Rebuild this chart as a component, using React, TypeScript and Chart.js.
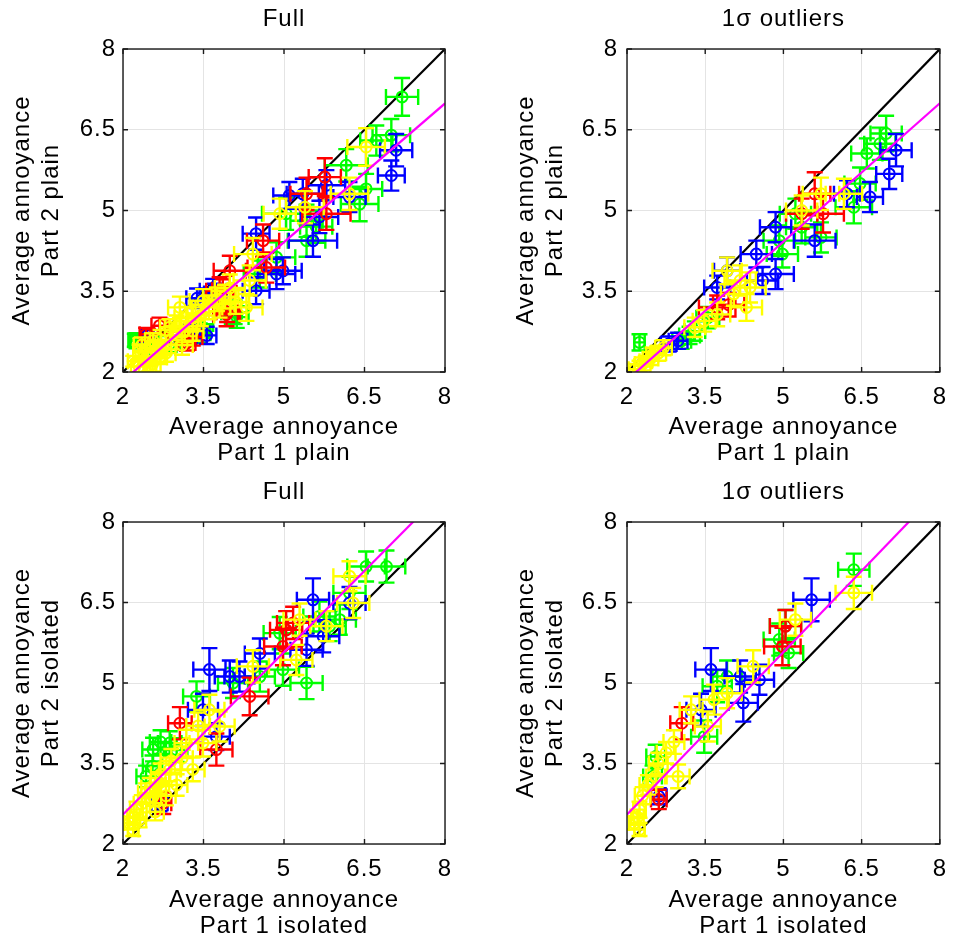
import React, { useEffect, useRef } from 'react';
import { Chart, registerables } from 'chart.js';

Chart.register(...registerables);

// ---------- data ----------
type Pt = [number, number, number, number]; // x, y, xErr, yErr

const AXIS_MIN = 2;
const AXIS_MAX = 8;
const TICK_VALUES = [2, 3.5, 5, 6.5, 8];

const PANEL_TITLES = ['Full', '1σ outliers', 'Full', '1σ outliers'];
const X_LABELS = [
  ['Average annoyance', 'Part 1 plain'],
  ['Average annoyance', 'Part 1 plain'],
  ['Average annoyance', 'Part 1 isolated'],
  ['Average annoyance', 'Part 1 isolated'],
];
const Y_LABELS = [
  ['Average annoyance', 'Part 2 plain'],
  ['Average annoyance', 'Part 2 plain'],
  ['Average annoyance', 'Part 2 isolated'],
  ['Average annoyance', 'Part 2 isolated'],
];
const FIT_SLOPES = [0.859, 0.857, 1.009, 1.009];
const FIT_INTERCEPTS = [0.117, 0.136, 0.53, 0.53];

// Top-left: Part 1 plain vs Part 2 plain, full
const tlGreen: Pt[] = [
  [7.2, 7.11, 0.3, 0.35], [7.0, 6.4, 0.35, 0.3], [6.72, 6.3, 0.3, 0.28], [6.16, 5.84, 0.4, 0.3],
  [6.41, 5.12, 0.35, 0.32], [6.53, 5.4, 0.3, 0.28], [5.04, 4.94, 0.45, 0.3], [5.42, 4.44, 0.35, 0.3],
  [4.86, 4.13, 0.35, 0.28], [4.55, 3.82, 0.3, 0.25], [5.6, 4.7, 0.3, 0.3], [5.42, 4.81, 0.3, 0.3],
  [4.08, 3.11, 0.25, 0.22], [3.43, 2.89, 0.25, 0.2], [3.37, 2.76, 0.22, 0.18], [2.87, 2.52, 0.2, 0.15],
  [2.5, 2.39, 0.15, 0.12], [2.25, 2.58, 0.12, 0.14], [4.12, 3.02, 0.22, 0.2], [3.43, 2.72, 0.2, 0.18],
  [2.22, 2.59, 0.12, 0.12],
];
const tlBlue: Pt[] = [
  [7.09, 6.12, 0.3, 0.3], [7.0, 5.65, 0.25, 0.28], [5.79, 5.47, 0.35, 0.28], [5.1, 5.28, 0.3, 0.25],
  [5.35, 5.31, 0.3, 0.28], [5.66, 4.88, 0.35, 0.3], [5.54, 4.44, 0.45, 0.3], [6.22, 5.25, 0.3, 0.28],
  [4.86, 3.82, 0.35, 0.28], [4.98, 3.88, 0.35, 0.25], [4.48, 4.57, 0.25, 0.3], [3.68, 3.51, 0.25, 0.22],
  [4.48, 3.51, 0.25, 0.25], [3.24, 2.7, 0.2, 0.18], [2.45, 2.68, 0.12, 0.12], [3.38, 3.37, 0.2, 0.18],
  [3.71, 3.46, 0.2, 0.18], [3.56, 2.68, 0.18, 0.16],
];
const tlRed: Pt[] = [
  [5.76, 5.62, 0.3, 0.35], [5.79, 4.94, 0.45, 0.3], [5.42, 5.31, 0.3, 0.3], [4.61, 4.44, 0.3, 0.3],
  [3.99, 3.88, 0.3, 0.28], [4.67, 3.94, 0.35, 0.28], [3.8, 3.51, 0.25, 0.25], [3.93, 3.07, 0.25, 0.22],
  [2.68, 2.86, 0.15, 0.15], [3.02, 2.67, 0.18, 0.15], [2.43, 2.7, 0.12, 0.12], [3.3, 2.65, 0.18, 0.16],
  [3.19, 2.54, 0.16, 0.14], [3.94, 3.11, 0.2, 0.18], [3.86, 3.52, 0.2, 0.2],
];
const tlYellow: Pt[] = [
  [6.53, 6.18, 0.35, 0.35], [6.22, 5.31, 0.35, 0.3], [5.39, 5.06, 0.35, 0.3], [4.92, 4.94, 0.3, 0.28],
  [4.42, 4.19, 0.35, 0.3], [4.36, 3.7, 0.3, 0.28], [4.3, 3.2, 0.3, 0.25], [3.99, 3.56, 0.28, 0.25],
  [3.8, 3.26, 0.28, 0.25], [3.49, 3.32, 0.25, 0.22], [3.18, 3.01, 0.22, 0.2], [3.06, 3.2, 0.22, 0.2],
  [3.3, 2.76, 0.2, 0.18], [2.87, 2.83, 0.18, 0.15], [2.75, 2.45, 0.15, 0.14], [2.56, 2.58, 0.15, 0.14],
  [2.68, 2.27, 0.14, 0.12], [2.5, 2.11, 0.12, 0.1], [2.43, 2.2, 0.12, 0.1], [2.31, 2.39, 0.12, 0.12],
  [2.19, 2.2, 0.1, 0.1], [2.3, 2.1, 0.15, 0.14], [2.45, 2.3, 0.16, 0.15], [2.6, 2.4, 0.18, 0.15],
  [2.7, 2.6, 0.2, 0.18], [2.9, 2.6, 0.2, 0.18], [3.0, 2.85, 0.22, 0.2], [3.15, 2.75, 0.22, 0.2],
  [3.3, 3.0, 0.22, 0.2], [3.45, 3.05, 0.25, 0.2], [3.6, 3.2, 0.25, 0.22], [3.75, 3.35, 0.25, 0.22],
  [2.35, 2.5, 0.15, 0.14], [2.55, 2.15, 0.15, 0.14], [2.8, 2.35, 0.18, 0.16], [3.1, 2.5, 0.2, 0.18],
  [3.9, 3.4, 0.25, 0.22], [4.1, 3.3, 0.25, 0.22],
];

// Top-right: Part 1 plain vs Part 2 plain, 1σ outliers
const trGreen: Pt[] = [
  [6.97, 6.43, 0.3, 0.33], [6.85, 6.24, 0.3, 0.3], [6.6, 6.06, 0.3, 0.28], [6.47, 5.5, 0.3, 0.3],
  [6.35, 5.06, 0.35, 0.3], [5.72, 4.5, 0.3, 0.28], [5.35, 4.69, 0.3, 0.3], [5.23, 4.94, 0.3, 0.28],
  [4.92, 4.44, 0.3, 0.28], [4.98, 4.19, 0.3, 0.25], [3.55, 3.01, 0.22, 0.2], [3.3, 2.76, 0.2, 0.18],
  [3.05, 2.58, 0.18, 0.15], [2.24, 2.55, 0.1, 0.15], [3.2, 2.68, 0.2, 0.16],
];
const trBlue: Pt[] = [
  [7.16, 6.12, 0.3, 0.3], [7.03, 5.68, 0.25, 0.28], [6.66, 5.25, 0.25, 0.28], [6.22, 5.31, 0.25, 0.25],
  [5.6, 4.44, 0.4, 0.3], [4.85, 4.69, 0.3, 0.28], [4.48, 4.19, 0.3, 0.25], [4.85, 3.82, 0.35, 0.28],
  [4.6, 3.7, 0.3, 0.25], [3.92, 3.88, 0.25, 0.25], [3.73, 3.57, 0.25, 0.22], [2.98, 2.58, 0.18, 0.15],
  [2.8, 2.52, 0.15, 0.14],
];
const trRed: Pt[] = [
  [5.6, 5.31, 0.3, 0.4], [5.76, 4.94, 0.4, 0.35], [5.35, 4.94, 0.3, 0.28], [3.73, 3.2, 0.35, 0.22],
  [3.95, 3.25, 0.3, 0.22],
];
const trYellow: Pt[] = [
  [6.16, 5.31, 0.35, 0.28], [5.72, 5.31, 0.35, 0.3], [5.35, 5.0, 0.3, 0.28], [4.36, 3.57, 0.3, 0.28],
  [4.17, 3.7, 0.3, 0.28], [4.29, 3.2, 0.3, 0.25], [3.92, 3.88, 0.28, 0.25], [3.73, 3.07, 0.25, 0.22],
  [3.48, 2.95, 0.22, 0.2], [3.3, 2.83, 0.2, 0.18], [2.49, 2.33, 0.12, 0.12], [2.36, 2.2, 0.12, 0.1],
  [2.24, 2.11, 0.1, 0.1], [2.3, 2.15, 0.15, 0.12], [2.45, 2.25, 0.15, 0.12], [2.6, 2.35, 0.15, 0.14],
  [2.7, 2.45, 0.16, 0.14], [2.15, 2.05, 0.12, 0.1], [4.05, 3.45, 0.25, 0.22],
];

// Bottom-left: Part 1 isolated vs Part 2 isolated, full
const blGreen: Pt[] = [
  [6.91, 7.17, 0.35, 0.3], [6.53, 7.17, 0.35, 0.28], [6.22, 6.68, 0.3, 0.3], [6.04, 6.18, 0.3, 0.28],
  [5.85, 6.06, 0.3, 0.28], [5.66, 6.24, 0.3, 0.28], [4.92, 5.93, 0.3, 0.3], [5.42, 5.0, 0.3, 0.3],
  [4.98, 5.25, 0.3, 0.3], [4.55, 5.12, 0.28, 0.28], [4.05, 5.0, 0.28, 0.28], [3.37, 4.75, 0.25, 0.28],
  [2.87, 3.88, 0.22, 0.22], [2.56, 3.76, 0.2, 0.22], [2.43, 3.26, 0.18, 0.2], [2.55, 3.45, 0.18, 0.2],
  [3.0, 3.75, 0.2, 0.22], [2.7, 3.9, 0.2, 0.22],
];
const blBlue: Pt[] = [
  [5.54, 6.55, 0.3, 0.4], [6.22, 6.49, 0.3, 0.3], [5.73, 5.87, 0.3, 0.3], [5.42, 5.62, 0.3, 0.3],
  [4.55, 5.55, 0.28, 0.28], [3.61, 5.25, 0.3, 0.4], [3.99, 5.12, 0.28, 0.3], [4.17, 5.12, 0.28, 0.28],
  [3.49, 4.5, 0.28, 0.3], [3.74, 4.0, 0.25, 0.25], [2.68, 2.76, 0.15, 0.15],
];
const blRed: Pt[] = [
  [5.04, 5.99, 0.3, 0.35], [5.17, 6.12, 0.3, 0.3], [4.98, 5.68, 0.35, 0.35], [4.36, 4.75, 0.35, 0.35],
  [3.06, 4.25, 0.22, 0.3], [3.74, 3.76, 0.3, 0.3], [2.75, 2.76, 0.15, 0.2],
];
const blYellow: Pt[] = [
  [6.22, 6.99, 0.3, 0.28], [6.29, 6.49, 0.3, 0.28], [5.79, 6.06, 0.3, 0.28], [5.29, 6.18, 0.3, 0.3],
  [5.23, 5.43, 0.3, 0.28], [4.42, 5.31, 0.3, 0.3], [3.8, 4.19, 0.28, 0.28], [3.61, 4.5, 0.28, 0.28],
  [3.49, 3.88, 0.25, 0.25], [3.18, 3.88, 0.22, 0.25], [3.3, 3.39, 0.22, 0.22], [2.87, 3.39, 0.2, 0.22],
  [2.68, 3.14, 0.18, 0.2], [2.56, 2.89, 0.15, 0.18], [2.43, 2.95, 0.15, 0.18], [2.25, 2.64, 0.12, 0.15],
  [2.31, 2.45, 0.12, 0.14], [2.12, 2.39, 0.1, 0.12], [2.19, 2.27, 0.1, 0.12], [2.35, 2.75, 0.15, 0.16],
  [2.5, 3.05, 0.16, 0.18], [2.7, 3.3, 0.18, 0.2], [2.9, 3.55, 0.2, 0.22], [3.0, 3.1, 0.2, 0.2],
  [2.2, 2.5, 0.12, 0.14], [2.6, 2.6, 0.16, 0.16], [3.1, 3.6, 0.2, 0.22], [3.4, 4.2, 0.22, 0.25],
  [2.8, 2.9, 0.18, 0.18],
];

// Bottom-right: Part 1 isolated vs Part 2 isolated, 1σ outliers
const brGreen: Pt[] = [
  [6.35, 7.11, 0.3, 0.3], [5.04, 6.06, 0.3, 0.3], [4.92, 5.81, 0.3, 0.3], [5.1, 5.56, 0.28, 0.28],
  [3.92, 5.12, 0.28, 0.3], [3.73, 4.94, 0.28, 0.3], [3.48, 4.0, 0.25, 0.3], [2.55, 3.63, 0.18, 0.22],
  [2.49, 3.26, 0.18, 0.2],
];
const brBlue: Pt[] = [
  [5.54, 6.55, 0.35, 0.4], [3.61, 5.25, 0.3, 0.4], [4.17, 5.12, 0.3, 0.3], [4.54, 5.06, 0.28, 0.28],
  [4.23, 4.63, 0.28, 0.35], [3.42, 4.5, 0.28, 0.3], [2.61, 2.89, 0.15, 0.15],
];
const brRed: Pt[] = [
  [5.04, 6.06, 0.3, 0.3], [4.98, 5.68, 0.35, 0.35], [3.05, 4.25, 0.22, 0.3], [2.61, 2.83, 0.15, 0.18],
];
const brYellow: Pt[] = [
  [6.35, 6.68, 0.35, 0.3], [5.23, 6.18, 0.3, 0.3], [4.42, 5.31, 0.3, 0.3], [3.92, 4.81, 0.28, 0.28],
  [3.67, 4.69, 0.28, 0.28], [3.55, 4.19, 0.25, 0.28], [3.23, 4.5, 0.22, 0.25], [2.98, 3.26, 0.22, 0.22],
  [2.55, 3.26, 0.18, 0.2], [2.24, 2.64, 0.12, 0.15], [2.14, 2.39, 0.1, 0.12], [2.24, 2.27, 0.1, 0.12],
  [2.3, 2.9, 0.15, 0.16], [2.4, 3.1, 0.16, 0.18], [2.6, 3.5, 0.18, 0.2], [2.75, 3.7, 0.18, 0.2],
  [2.2, 2.5, 0.12, 0.14], [2.9, 3.9, 0.2, 0.22],
];

const PANEL_SERIES: Pt[][][] = [
  [tlGreen, tlBlue, tlRed, tlYellow],
  [trGreen, trBlue, trRed, trYellow],
  [blGreen, blBlue, blRed, blYellow],
  [brGreen, brBlue, brRed, brYellow],
];
const SERIES_COLORS = ['#00ff00', '#0000ff', '#ff0000', '#ffff00'];

// ---------- layout (styling only) ----------
const CANVAS_W = 479;
const CANVAS_H = 472;
const LAYOUT = [
  { left: 0, top: 0, yAxisW: 123, padRight: 34, titlePadTop: 4, titlePadBottom: 16, yTitlePad: 8, yTickPad: 7, xTitlePad: 6 },
  { left: 479, top: 0, yAxisW: 148, padRight: 10, titlePadTop: 4, titlePadBottom: 16, yTitlePad: 32.5, yTickPad: 9, xTitlePad: 6 },
  { left: 0, top: 472, yAxisW: 123, padRight: 34, titlePadTop: 5, titlePadBottom: 16, yTitlePad: 8, yTickPad: 7, xTitlePad: 4.5 },
  { left: 479, top: 472, yAxisW: 148, padRight: 10, titlePadTop: 5, titlePadBottom: 16, yTitlePad: 32.5, yTickPad: 9, xTitlePad: 4.5 },
];

const FONT_FAMILY = "'Liberation Sans', Arial, Helvetica, sans-serif";

const spacingPlugin = {
  id: 'letterSpacing',
  beforeUpdate(chart: any) {
    chart.ctx.letterSpacing = '1px';
  },
  beforeDraw(chart: any) {
    chart.ctx.letterSpacing = '1px';
  },
};

const errorBarPlugin = {
  id: 'errorBars',
  beforeDatasetDraw(chart: any, args: any) {
    const ds = chart.data.datasets[args.index];
    if (!ds.errors) return;
    const { ctx, chartArea: a, scales } = chart;
    const xs = scales.x;
    const ys = scales.y;
    const cap = 8;
    ctx.save();
    ctx.beginPath();
    ctx.rect(a.left, a.top, a.right - a.left, a.bottom - a.top);
    ctx.clip();
    ctx.strokeStyle = ds.borderColor;
    ctx.lineWidth = 2.4;
    ctx.beginPath();
    ds.data.forEach((p: any, i: number) => {
      const [ex, ey] = ds.errors[i];
      const px = xs.getPixelForValue(p.x);
      const py = ys.getPixelForValue(p.y);
      const x0 = xs.getPixelForValue(p.x - ex);
      const x1 = xs.getPixelForValue(p.x + ex);
      const y0 = ys.getPixelForValue(p.y - ey);
      const y1 = ys.getPixelForValue(p.y + ey);
      ctx.moveTo(x0, py); ctx.lineTo(x1, py);
      ctx.moveTo(x0, py - cap); ctx.lineTo(x0, py + cap);
      ctx.moveTo(x1, py - cap); ctx.lineTo(x1, py + cap);
      ctx.moveTo(px, y0); ctx.lineTo(px, y1);
      ctx.moveTo(px - cap, y0); ctx.lineTo(px + cap, y0);
      ctx.moveTo(px - cap, y1); ctx.lineTo(px + cap, y1);
    });
    ctx.stroke();
    ctx.restore();
  },
};

const framePlugin = {
  id: 'frameBox',
  afterDraw(chart: any) {
    const { ctx, chartArea: a, scales } = chart;
    const tick = 5;
    ctx.save();
    ctx.strokeStyle = '#1a1a1a';
    ctx.lineWidth = 1.4;
    ctx.strokeRect(a.left, a.top, a.right - a.left, a.bottom - a.top);
    ctx.beginPath();
    TICK_VALUES.forEach((v) => {
      const px = scales.x.getPixelForValue(v);
      const py = scales.y.getPixelForValue(v);
      ctx.moveTo(px, a.bottom); ctx.lineTo(px, a.bottom - tick);
      ctx.moveTo(px, a.top); ctx.lineTo(px, a.top + tick);
      ctx.moveTo(a.left, py); ctx.lineTo(a.left + tick, py);
      ctx.moveTo(a.right, py); ctx.lineTo(a.right - tick, py);
    });
    ctx.stroke();
    ctx.restore();
  },
};

function Panel({ idx }: { idx: number }) {
  const ref = useRef<HTMLCanvasElement>(null);
  const L = LAYOUT[idx];

  useEffect(() => {
    if (!ref.current) return;
    const series = PANEL_SERIES[idx];
    const pointSets = series.map((pts, si) => ({
      label: 'series' + si,
      data: pts.map((p) => ({ x: p[0], y: p[1] })),
      errors: pts.map((p) => [p[2], p[3]]),
      borderColor: SERIES_COLORS[si],
      backgroundColor: 'rgba(0,0,0,0)',
      pointRadius: 5.5,
      pointBorderWidth: 2,
      showLine: false,
      order: 10 - si,
    }));
    const slope = FIT_SLOPES[idx];
    const intercept = FIT_INTERCEPTS[idx];
    const identity = {
      label: 'identity',
      data: [AXIS_MIN, AXIS_MAX].map((v) => ({ x: v, y: v })),
      borderColor: '#000000',
      borderWidth: 2.2,
      pointRadius: 0,
      showLine: true,
      fill: false,
      order: 20,
    };
    const fit = {
      label: 'fit',
      data: [AXIS_MIN, AXIS_MAX].map((v) => ({ x: v, y: slope * v + intercept })),
      borderColor: '#ff00ff',
      borderWidth: 2.2,
      pointRadius: 0,
      showLine: true,
      fill: false,
      order: 0,
    };

    const tickFont = { family: FONT_FAMILY, size: 24, lineHeight: 1.2 };
    const chart = new Chart(ref.current, {
      type: 'scatter',
      data: { datasets: [identity, ...pointSets, fit] as any },
      plugins: [spacingPlugin, errorBarPlugin, framePlugin],
      options: {
        animation: false,
        responsive: false,
        events: [],
        layout: { padding: { left: 0, right: L.padRight, top: 0, bottom: 0 } },
        plugins: {
          legend: { display: false },
          tooltip: { enabled: false },
          title: {
            display: true,
            text: PANEL_TITLES[idx],
            color: '#000',
            fullSize: false,
            font: { family: FONT_FAMILY, size: 24, weight: 'normal', lineHeight: 30 / 24 },
            padding: { top: L.titlePadTop, bottom: L.titlePadBottom - 1 },
          } as any,
        },
        scales: {
          x: {
            type: 'linear',
            min: AXIS_MIN,
            max: AXIS_MAX,
            afterBuildTicks: (axis: any) => {
              axis.ticks = TICK_VALUES.map((v) => ({ value: v }));
            },
            afterFit: (s: any) => {
              s.height = CANVAS_H - 372;
            },
            grid: { color: '#e4e4e4', lineWidth: 1, drawTicks: false },
            border: { display: false },
            ticks: {
              padding: 11,
              color: '#000',
              font: tickFont,
              maxRotation: 0,
              autoSkip: false,
              callback: (v: any) => String(v),
            },
            title: {
              display: true,
              text: X_LABELS[idx],
              color: '#000',
              font: { family: FONT_FAMILY, size: 24, lineHeight: 26 / 24 },
              padding: { top: 0, bottom: L.xTitlePad },
            },
          },
          y: {
            type: 'linear',
            min: AXIS_MIN,
            max: AXIS_MAX,
            afterBuildTicks: (axis: any) => {
              axis.ticks = TICK_VALUES.map((v) => ({ value: v }));
            },
            afterFit: (s: any) => {
              s.width = L.yAxisW;
            },
            grid: { color: '#e4e4e4', lineWidth: 1, drawTicks: false },
            border: { display: false },
            ticks: {
              padding: L.yTickPad,
              color: '#000',
              font: tickFont,
              autoSkip: false,
              callback: (v: any) => String(v),
            },
            title: {
              display: true,
              text: Y_LABELS[idx],
              color: '#000',
              font: { family: FONT_FAMILY, size: 24, lineHeight: 29 / 24 },
              padding: { top: L.yTitlePad, bottom: 0 },
            },
          },
        },
      } as any,
    });
    return () => chart.destroy();
  }, [idx]);

  return (
    <canvas
      ref={ref}
      width={CANVAS_W}
      height={CANVAS_H}
      style={{ position: 'absolute', left: L.left, top: L.top, width: CANVAS_W, height: CANVAS_H }}
    />
  );
}

export default function App() {
  return (
    <div style={{ position: 'absolute', left: 0, top: 0, width: 958, height: 944, background: '#ffffff' }}>
      {[0, 1, 2, 3].map((i) => (
        <Panel key={i} idx={i} />
      ))}
    </div>
  );
}
